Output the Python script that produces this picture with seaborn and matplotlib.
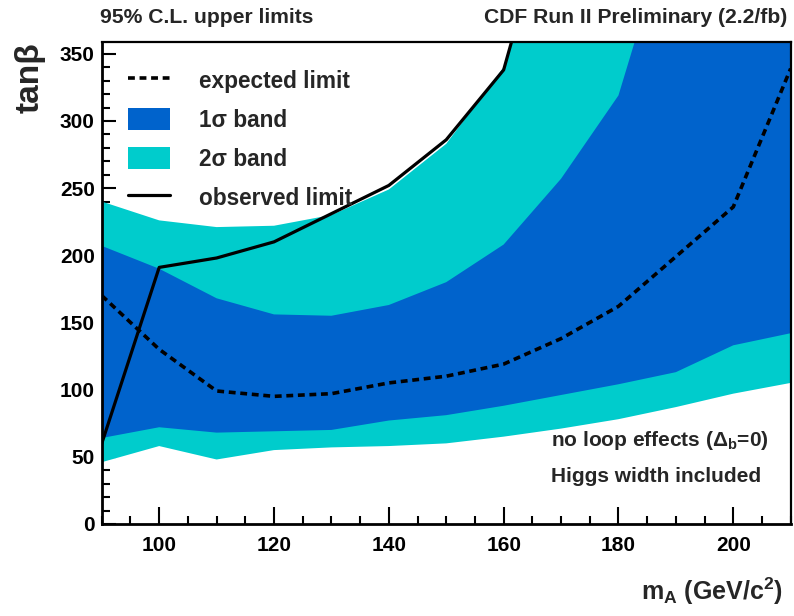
import matplotlib
matplotlib.use("Agg")
import matplotlib.pyplot as plt
import numpy as np
import pandas as pd
import seaborn as sns
from matplotlib.lines import Line2D
from matplotlib.patches import Patch
from matplotlib.ticker import MultipleLocator

# Higgs mass points (GeV/c^2)
m_a = [90, 100, 110, 120, 130, 140, 150, 160, 170, 180, 190, 200, 210]
# expected 95% C.L. limit on tan(beta)
expected = [170, 130, 99, 95, 97, 105, 110, 119, 138, 162, 199, 236, 339]
# 1 sigma band around the expected limit
band1_lo = [64, 72, 68, 69, 70, 77, 81, 88, 96, 104, 113, 133, 142]
band1_hi = [207, 190, 168, 156, 155, 163, 180, 208, 257, 319, 460, 600, 700]
# 2 sigma band around the expected limit
band2_lo = [46, 58, 48, 55, 57, 58, 60, 65, 71, 78, 87, 97, 105]
band2_hi = [240, 226, 221, 222, 230, 249, 283, 340, 490, 620, 750, 880, 1000]
# observed limit
obs_mass = [90, 100, 110, 120, 130, 140, 150, 160, 170]
observed = [60, 191, 198, 210, 231, 252, 286, 338, 490]

x_ticks = [100, 120, 140, 160, 180, 200]
y_ticks = [0, 50, 100, 150, 200, 250, 300, 350]

BLUE = "#0063CC"
CYAN = "#00CCCC"
FONT = "Liberation Sans"

sns.set_style("ticks")
plt.rcParams["font.family"] = [FONT, "DejaVu Sans"]
plt.rcParams["font.weight"] = "bold"
plt.rcParams["mathtext.fontset"] = "custom"
plt.rcParams["mathtext.rm"] = FONT + ":bold"
plt.rcParams["mathtext.it"] = FONT + ":bold"
plt.rcParams["mathtext.bf"] = FONT + ":bold"
plt.rcParams["mathtext.sf"] = FONT + ":bold"
plt.rcParams["mathtext.default"] = "rm"

df = pd.DataFrame({"m": m_a, "exp": expected})
dobs = pd.DataFrame({"m": obs_mass, "obs": observed})

fig = plt.figure(figsize=(7.94, 6.16), dpi=100)
ax = fig.add_axes([0.1282, 0.1494, 0.8676, 0.7829])

ax.fill_between(m_a, band2_lo, band2_hi, color=CYAN, lw=0, zorder=1)
ax.fill_between(m_a, band1_lo, band1_hi, color=BLUE, lw=0, zorder=2)
sns.lineplot(data=df, x="m", y="exp", ax=ax, color="black", lw=2.6,
             zorder=3).lines[-1].set_dashes((1.9, 1.3))
sns.lineplot(data=dobs, x="m", y="obs", ax=ax, color="black", lw=2.3,
             zorder=4)

ax.set_xlim(90, 210)
ax.set_ylim(0, 359)
ax.set_xticks(x_ticks)
ax.set_yticks(y_ticks)
ax.xaxis.set_minor_locator(MultipleLocator(5))
ax.yaxis.set_minor_locator(MultipleLocator(10))
ax.tick_params(which="both", direction="in", top=False, right=False,
               width=1.5, colors="black")
ax.tick_params(axis="x", which="major", length=12.5, pad=9, labelsize=15)
ax.tick_params(axis="x", which="minor", length=6)
ax.tick_params(axis="y", which="major", length=10, pad=5, labelsize=15)
ax.tick_params(axis="y", which="minor", length=5.5)
for lab in ax.get_xticklabels() + ax.get_yticklabels():
    lab.set_fontweight("bold")
for side, w in {"left": 2.0, "bottom": 2.0, "top": 1.6, "right": 1.6}.items():
    ax.spines[side].set_visible(True)
    ax.spines[side].set_linewidth(w)
    ax.spines[side].set_color("black")
    ax.spines[side].set_zorder(6)
ax.set_xlabel("")
ax.set_ylabel("")

handles = [
    Line2D([0], [0], color="black", lw=2.6, dashes=(1.9, 1.3)),
    Patch(facecolor=BLUE, edgecolor="none"),
    Patch(facecolor=CYAN, edgecolor="none"),
    Line2D([0], [0], color="black", lw=2.3),
]
labels = ["expected limit", "1\u03c3 band", "2\u03c3 band", "observed limit"]
leg = ax.legend(handles, labels, loc="upper left", frameon=False,
                bbox_to_anchor=(0.025, 0.962), fontsize=16.3,
                handlelength=1.85, handleheight=1.1, handletextpad=1.3,
                labelspacing=0.68, borderaxespad=0)
leg.set_zorder(7)

ax.text(0.652, 0.174, "no loop effects ($\\Delta_b$=0)", transform=ax.transAxes,
        fontsize=15, fontweight="bold", va="center", ha="left", zorder=7)
ax.text(0.652, 0.0975, "Higgs width included", transform=ax.transAxes,
        fontsize=15, fontweight="bold", va="center", ha="left", zorder=7)

fig.text(0.126, 0.972, "95% C.L. upper limits", fontsize=15.2,
         fontweight="bold", ha="left", va="center")
fig.text(0.991, 0.972, "CDF Run II Preliminary (2.2/fb)", fontsize=15.2,
         fontweight="bold", ha="right", va="center")
fig.text(0.038, 0.932, "tan\u03b2", rotation=90, fontsize=24,
         fontweight="bold", ha="center", va="top")
fig.text(0.986, 0.040, "m$_{A}$ (GeV/c$^{2}$)", fontsize=18,
         fontweight="bold", ha="right", va="center")

fig.savefig("out.png", dpi=100)
